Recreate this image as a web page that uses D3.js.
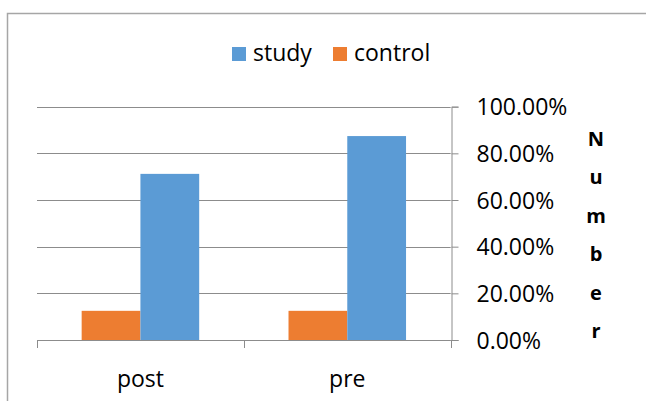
<!DOCTYPE html>
<html>
<head>
<meta charset="utf-8">
<script src="https://cdn.jsdelivr.net/npm/d3@7"></script>
<style>
  html, body { margin: 0; padding: 0; background: #fff; }
  svg { display: block; }
  text { font-family: "Open Sans", sans-serif; fill: #000; }
</style>
</head>
<body>
<svg id="chart" width="646" height="401"></svg>
<script>
// ---- data ----
const categories = ["post", "pre"];
const seriesNames = ["control", "study"];       // drawing order within a group
const legendOrder = ["study", "control"];
const studyValues = [0.712, 0.874];
const controlValues = [0.125, 0.125];
const yTicks = [0, 0.2, 0.4, 0.6, 0.8, 1.0];
const axisTitle = "Number";

const colors = { study: "#5B9BD5", control: "#ED7D31" };
const values = { study: studyValues, control: controlValues };

const svg = d3.select("#chart");
const W = 646, H = 401;
const plot = { left: 37, right: 450.7, top: 106.67, bottom: 340 };

// chart border (left + top visible)
svg.append("path")
  .attr("d", `M7.5,${H} V13.5 H${W}`)
  .attr("fill", "none").attr("stroke", "#a6a6a6").attr("stroke-width", 1.5);

const x = d3.scaleBand().domain(categories).range([plot.left, plot.right]).paddingInner(0).paddingOuter(0);
const xs = d3.scaleBand().domain(seriesNames).range([0, x.bandwidth()]).paddingInner(0).paddingOuter(0.76);
const y = d3.scaleLinear().domain([0, 1]).range([plot.bottom, plot.top]);

// gridlines
svg.append("g").selectAll("line").data(yTicks).join("line")
  .attr("x1", plot.left).attr("x2", plot.right)
  .attr("y1", d => Math.round(y(d)) + 0.5).attr("y2", d => Math.round(y(d)) + 0.5)
  .attr("stroke", "#8c8c8c").attr("stroke-width", 1);

// bars
const groups = svg.append("g").selectAll("g").data(categories).join("g")
  .attr("transform", d => `translate(${x(d)},0)`);
groups.selectAll("rect")
  .data((c, i) => seriesNames.map(s => ({ s, v: values[s][i] })))
  .join("rect")
  .attr("x", d => xs(d.s))
  .attr("width", xs.bandwidth())
  .attr("y", d => y(d.v))
  .attr("height", d => y(0) - y(d.v))
  .attr("fill", d => colors[d.s]);

// right value axis
const yAxis = d3.axisRight(y).tickValues(yTicks).tickFormat(d3.format(".2%")).tickSizeOuter(0).tickSize(7).tickPadding(18);
const gy = svg.append("g").attr("transform", `translate(${Math.round(plot.right) + 0.5},0)`).call(yAxis);
gy.select(".domain").attr("stroke", "#8c8c8c");
gy.selectAll(".tick line").attr("stroke", "#8c8c8c");
gy.selectAll(".tick text").attr("font-size", 23).attr("font-family", "Open Sans").attr("fill", "#000")
  .attr("dy", "0.36em");

// bottom category axis
const xAxis = d3.axisBottom(x).tickSize(0).tickPadding(30);
const gx = svg.append("g").attr("transform", `translate(0,${Math.round(plot.bottom) + 0.5})`).call(xAxis);
gx.select(".domain").attr("stroke", "#8c8c8c").attr("d", `M${plot.left},0H${plot.right}`);
gx.selectAll(".tick text").attr("font-size", 23).attr("font-family", "Open Sans").attr("fill", "#000")
  .attr("dy", "0.71em");
// category boundary ticks
const bounds = [plot.left].concat(categories.map(c => x(c) + x.bandwidth()));
svg.append("g").selectAll("line").data(bounds).join("line")
  .attr("x1", d => Math.round(d) + 0.5).attr("x2", d => Math.round(d) + 0.5)
  .attr("y1", plot.bottom).attr("y2", plot.bottom + 8)
  .attr("stroke", "#8c8c8c");

// axis title, stacked letters
const title = svg.append("text").attr("font-weight", "bold").attr("font-size", 20)
  .attr("text-anchor", "middle");
title.selectAll("tspan").data(axisTitle.split("")).join("tspan")
  .attr("x", 596).attr("y", (d, i) => 146 + i * 38.4).text(d => d);

// legend
const legend = svg.append("g");
const legX = { study: 232, control: 333 };
legendOrder.forEach(s => {
  legend.append("rect").attr("x", legX[s]).attr("y", 47).attr("width", 14).attr("height", 14).attr("fill", colors[s]);
  legend.append("text").attr("x", legX[s] + 21).attr("y", 61).attr("font-size", 23).text(s);
});
</script>
</body>
</html>
